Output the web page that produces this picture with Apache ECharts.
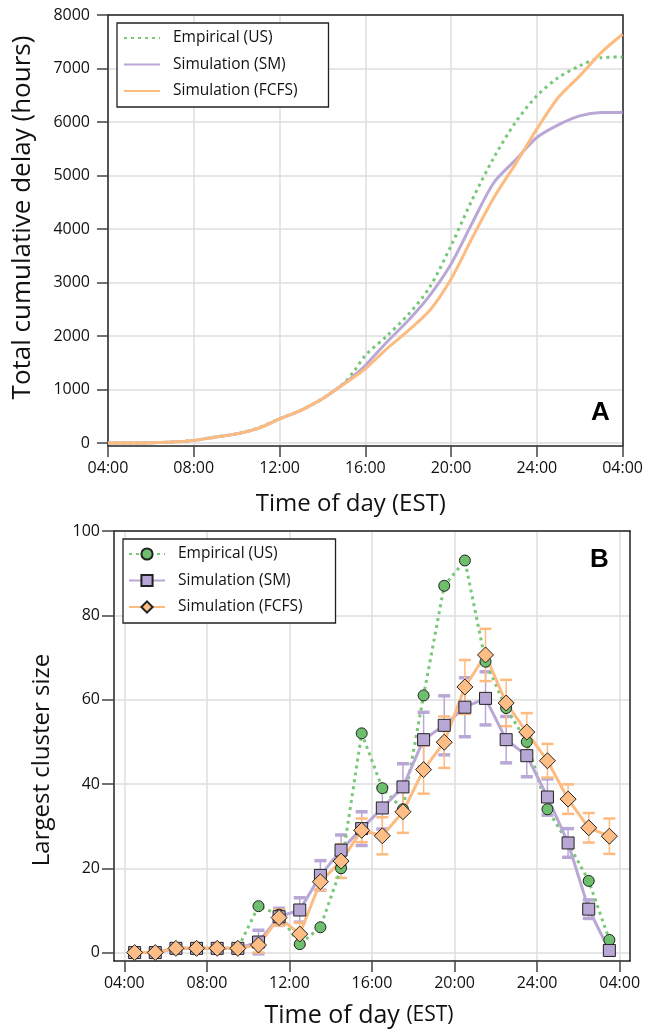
<!DOCTYPE html>
<html>
<head>
<meta charset="utf-8">
<script src="https://cdn.jsdelivr.net/npm/echarts@6/dist/echarts.min.js"></script>
<style>
  html, body { margin: 0; padding: 0; background: #fff; }
  #chart { width: 646px; height: 1035px; }
</style>
</head>
<body>
<div id="chart"></div>
<script>
// panel A: cumulative delay (hours), hour of day (28 = 04:00 next day)
var hoursA = [4, 5, 6, 7, 8, 9, 10, 11, 12, 13, 14, 15, 15.5, 16, 17, 18, 19, 20, 21, 22, 23, 24, 25, 26, 27, 28];
var delayEmp = [0, 0, 6, 19, 50, 112, 175, 280, 454, 615, 827, 1120, 1356, 1636, 2000, 2400, 2911, 3689, 4560, 5337, 5991, 6488, 6830, 7050, 7200, 7215];
var delaySM = [0, 0, 6, 19, 50, 110, 172, 275, 450, 612, 827, 1110, 1270, 1450, 1885, 2289, 2756, 3347, 4124, 4870, 5288, 5710, 5947, 6115, 6177, 6180];
var delayFCFS = [0, 0, 6, 19, 50, 110, 172, 275, 450, 612, 827, 1100, 1240, 1387, 1760, 2100, 2476, 3067, 3845, 4591, 5213, 5866, 6457, 6862, 7297, 7640];

// panel B: largest cluster size, per hour (bin centres)
var hoursB = [4.5, 5.5, 6.5, 7.5, 8.5, 9.5, 10.5, 11.5, 12.5, 13.5, 14.5, 15.5, 16.5, 17.5, 18.5, 19.5, 20.5, 21.5, 22.5, 23.5, 24.5, 25.5, 26.5, 27.5];
var clusterEmp = [0, 0, 1, 1, 1, 1, 11, 9, 2, 6, 20, 52, 39, 34, 61, 87, 93, 69, 58, 50, 34, 26, 17, 3];
var clusterSM = [0, 0, 1, 1, 1, 1, 2.5, 8.5, 10.1, 18.3, 24.3, 29.4, 34.3, 39.3, 50.5, 53.9, 58.2, 60.3, 50.5, 46.7, 36.9, 26, 10.3, 0.5];
var errSM = [0, 0, 0, 0, 0, 0, 2.8, 2, 2.9, 3.5, 3.6, 4, 5, 5.5, 6.5, 7, 7, 6.3, 5.5, 5, 4.3, 3.4, 2.2, 1];
var clusterFCFS = [0, 0, 1, 1, 1, 1, 1.8, 8.3, 4.4, 16.8, 21.7, 29, 27.7, 33.4, 43.4, 49.9, 63, 70.6, 59.2, 52.3, 45.5, 36.4, 29.6, 27.6];
var errFCFS = [0, 0, 0, 0, 0, 0, 1.8, 1.9, 2.7, 2, 4, 2.8, 4.4, 5, 5.7, 6.1, 6.4, 6.2, 5.5, 4.5, 4, 3.5, 3.5, 4.2];

var timeTicks = [4, 8, 12, 16, 20, 24, 28];
var delayTicks = [0, 1000, 2000, 3000, 4000, 5000, 6000, 7000, 8000];
var clusterTicks = [0, 20, 40, 60, 80, 100];

var names = ['Empirical (US)', 'Simulation (SM)', 'Simulation (FCFS)'];
var green = '#78c878', purple = '#b9a8d6', orange = '#fdbb80';
var font = '"Open Sans", sans-serif';

function pairs(xs, ys) {
  return xs.map(function (x, i) { return [x, ys[i]]; });
}
function bars(xs, ys, es) {
  var out = [];
  for (var i = 0; i < xs.length; i++) {
    if (es[i] > 0) out.push([xs[i], ys[i] - es[i], ys[i] + es[i]]);
  }
  return out;
}
function timeLabel(v) {
  if (v % 4 !== 0) return '';
  var h = v >= 28 ? v - 24 : v;
  return (h < 10 ? '0' : '') + h + ':00';
}
function plainLabel(v) {
  return String(v);
}
function errRender(color, capWidth) {
  return function (params, api) {
    var x = api.value(0);
    var lo = api.coord([x, api.value(1)]);
    var hi = api.coord([x, api.value(2)]);
    var w = 6;
    return {
      type: 'group',
      children: [
        { type: 'line', shape: { x1: lo[0], y1: lo[1], x2: hi[0], y2: hi[1] }, style: { stroke: color, lineWidth: 1.5 } },
        { type: 'line', shape: { x1: lo[0] - w, y1: lo[1], x2: lo[0] + w, y2: lo[1] }, style: { stroke: color, lineWidth: capWidth } },
        { type: 'line', shape: { x1: hi[0] - w, y1: hi[1], x2: hi[0] + w, y2: hi[1] }, style: { stroke: color, lineWidth: capWidth } }
      ]
    };
  };
}
// plain frame edge (top / right) for a grid
function edgeAxis(kind, grid, pos, min, max) {
  var a = {
    gridIndex: grid, type: 'value', position: pos, min: min, max: max,
    axisLine: { show: true, onZero: false, lineStyle: { color: '#222', width: 1.5 } },
    axisTick: { show: false }, axisLabel: { show: false }, splitLine: { show: false }
  };
  return a;
}

var axisLineStyle = { onZero: false, lineStyle: { color: '#222', width: 1.5 } };
var tickStyle = { show: true, inside: false, length: 11, lineStyle: { color: '#444', width: 1.5 } };
var gridLine = { show: true, lineStyle: { color: '#dedede', width: 1.5 } };

var myChart = echarts.init(document.getElementById('chart'));

var option = {
  backgroundColor: '#fff',
  textStyle: { fontFamily: font },
  animation: false,
  grid: [
    { left: 108, top: 15, width: 518, height: 431, containLabel: false },
    { left: 114, top: 531, width: 516, height: 430, containLabel: false }
  ],
  legend: [
    {
      data: names, orient: 'vertical', left: 117, top: 23,
      itemWidth: 36, itemHeight: 14, itemGap: 10.5,
      padding: [7, 31, 8, 6],
      borderColor: '#222', borderWidth: 1.3, backgroundColor: '#fff',
      itemStyle: { color: 'rgba(0,0,0,0)', borderWidth: 0, opacity: 0 },
      textStyle: { fontFamily: font, fontSize: 15.5, color: '#111', padding: [0, 0, 0, 8] },
      selectedMode: false
    },
    {
      data: [names[0] + ' ', names[1] + ' ', names[2] + ' '], orient: 'vertical', left: 123, top: 539,
      itemWidth: 36, itemHeight: 14, itemGap: 10.5,
      padding: [7, 29, 8, 5],
      borderColor: '#222', borderWidth: 1.3, backgroundColor: '#fff',
      textStyle: { fontFamily: font, fontSize: 15.5, color: '#111', padding: [0, 0, 0, 8] },
      selectedMode: false
    }
  ],
  xAxis: [
    {
      gridIndex: 0, type: 'value', min: 4, max: 28, interval: 4,
      name: 'Time of day (EST)', nameLocation: 'middle', nameGap: 46,
      nameTextStyle: { fontFamily: font, fontSize: 24, color: '#111', padding: [0, 29, 0, 0] },
      axisLine: axisLineStyle, axisTick: tickStyle, splitLine: gridLine,
      axisLabel: { fontFamily: font, fontSize: 16, color: '#111', margin: 14, formatter: timeLabel }
    },
    {
      gridIndex: 1, type: 'value', min: 3.5, max: 28.5, minInterval: 4, maxInterval: 4,
      name: '{a|Time of day }{b|(EST)}', nameLocation: 'middle', nameGap: 42,
      nameTextStyle: {
        fontFamily: font, color: '#111', padding: [0, 26, 0, 0],
        rich: { a: { fontFamily: font, fontSize: 25, color: '#111' }, b: { fontFamily: font, fontSize: 21, color: '#111' } }
      },
      axisLine: axisLineStyle,
      axisTick: { show: true, inside: false, length: 11, lineStyle: { color: '#444', width: 1.5 }, customValues: timeTicks },
      splitLine: gridLine,
      axisLabel: { fontFamily: font, fontSize: 16, color: '#111', margin: 14, formatter: timeLabel, customValues: timeTicks }
    },
    edgeAxis('x', 0, 'top', 4, 28),
    edgeAxis('x', 1, 'top', 3.5, 28.5)
  ],
  yAxis: [
    {
      gridIndex: 0, type: 'value', min: -55, max: 8000, minInterval: 1000, maxInterval: 1000,
      name: 'Total cumulative delay (hours)', nameLocation: 'middle', nameGap: 72,
      nameTextStyle: { fontFamily: font, fontSize: 26, color: '#111', padding: [0, 0, 0, 26] },
      axisLine: axisLineStyle,
      axisTick: { show: true, inside: false, length: 11, lineStyle: { color: '#444', width: 1.5 }, customValues: delayTicks },
      splitLine: gridLine,
      axisLabel: { fontFamily: font, fontSize: 16, color: '#111', margin: 18, formatter: plainLabel, customValues: delayTicks }
    },
    {
      gridIndex: 1, type: 'value', min: -2, max: 100, minInterval: 20, maxInterval: 20,
      name: 'Largest cluster size', nameLocation: 'middle', nameGap: 60,
      nameTextStyle: { fontFamily: font, fontSize: 24, color: '#111', padding: [0, 28, 0, 0] },
      axisLine: axisLineStyle,
      axisTick: { show: true, inside: false, length: 12, lineStyle: { color: '#444', width: 1.5 }, customValues: clusterTicks },
      splitLine: gridLine,
      axisLabel: { fontFamily: font, fontSize: 16, color: '#111', margin: 14, formatter: plainLabel, customValues: clusterTicks }
    },
    edgeAxis('y', 0, 'right', -55, 8000),
    edgeAxis('y', 1, 'right', -2, 100)
  ],
  graphic: [
    { type: 'text', left: 591, top: 400, style: { text: 'A', font: 'bold 26px "Liberation Sans", Arial, sans-serif', fill: '#000' } },
    { type: 'text', left: 590, top: 547, style: { text: 'B', font: 'bold 26px "Liberation Sans", Arial, sans-serif', fill: '#000' } }
  ],
  series: [
    {
      name: names[0], type: 'line', xAxisIndex: 0, yAxisIndex: 0, data: pairs(hoursA, delayEmp),
      symbol: 'none', smooth: 0.3, lineStyle: { color: green, width: 3, type: [3, 4] }, itemStyle: { color: green }
    },
    {
      name: names[1], type: 'line', xAxisIndex: 0, yAxisIndex: 0, data: pairs(hoursA, delaySM),
      symbol: 'none', smooth: 0.3, lineStyle: { color: purple, width: 3 }, itemStyle: { color: purple }
    },
    {
      name: names[2], type: 'line', xAxisIndex: 0, yAxisIndex: 0, data: pairs(hoursA, delayFCFS),
      symbol: 'none', smooth: 0.3, lineStyle: { color: orange, width: 3 }, itemStyle: { color: orange }
    },
    {
      name: names[0] + ' ', type: 'line', xAxisIndex: 1, yAxisIndex: 1, data: pairs(hoursB, clusterEmp),
      symbol: 'circle', symbolSize: 11, showAllSymbol: true,
      lineStyle: { color: green, width: 3, type: [3, 4] },
      itemStyle: { color: '#6dbf6d', borderColor: '#222', borderWidth: 1 }
    },
    {
      type: 'custom', xAxisIndex: 1, yAxisIndex: 1, data: bars(hoursB, clusterSM, errSM),
      encode: { x: 0, y: [1, 2] }, renderItem: errRender(purple, 3.5), silent: true
    },
    {
      name: names[1] + ' ', type: 'line', xAxisIndex: 1, yAxisIndex: 1, data: pairs(hoursB, clusterSM),
      symbol: 'rect', symbolSize: 12, showAllSymbol: true,
      lineStyle: { color: purple, width: 3 },
      itemStyle: { color: '#b8a7d5', borderColor: '#222', borderWidth: 1 }
    },
    {
      type: 'custom', xAxisIndex: 1, yAxisIndex: 1, data: bars(hoursB, clusterFCFS, errFCFS),
      encode: { x: 0, y: [1, 2] }, renderItem: errRender(orange, 2.5), silent: true
    },
    {
      name: names[2] + ' ', type: 'line', xAxisIndex: 1, yAxisIndex: 1, data: pairs(hoursB, clusterFCFS),
      symbol: 'diamond', symbolSize: [16, 16], showAllSymbol: true,
      lineStyle: { color: orange, width: 3 },
      itemStyle: { color: '#fdbd84', borderColor: '#222', borderWidth: 1 }
    }
  ]
};

myChart.setOption(option);
</script>
</body>
</html>
